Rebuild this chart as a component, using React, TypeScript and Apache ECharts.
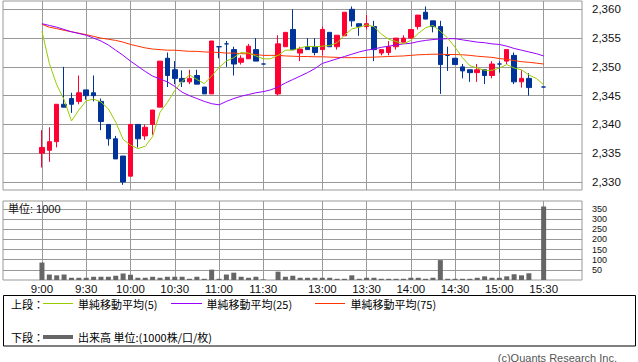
import React, { useEffect, useRef } from 'react';
import * as echarts from 'echarts';

// ---- axis ticks ----
const TICK_SLOTS = [0, 6, 12, 18, 24, 30, 38, 44, 50, 56, 62, 68];
const TICK_LABELS = ['9:00', '9:30', '10:00', '10:30', '11:00', '11:30', '13:00', '13:30', '14:00', '14:30', '15:00', '15:30'];
const PRICE_TICKS = [2330, 2335, 2340, 2345, 2350, 2355, 2360];
const VOL_TICKS = [50, 100, 150, 200, 250, 300, 350];

// ---- 5-minute candles (slot index, 9:00 = 0; lunch gap at 31, no trade at 67) ----
const CANDLE_SLOTS = [0,1,2,3,4,5,6,7,8,9,10,11,12,13,14,15,16,17,18,19,20,21,22,23,24,25,26,27,28,29,30,
  32,33,34,35,36,37,38,39,40,41,42,43,44,45,46,47,48,49,50,51,52,53,54,55,56,57,58,59,60,61,62,63,64,65,66,68];
const OPEN = [2335,2335.5,2337,2343.5,2344.5,2344,2346,2345.5,2344,2340,2337.5,2334.5,2331,2340,2338,2340,2343,2351.5,2349.5,2348,2347.4,2348.5,2346.5,2345.3,2353.5,2354,2353,2350.8,2351.4,2353,2350.5,
  2345.3,2353.5,2356.5,2352.4,2353.5,2353.5,2353,2356,2353.5,2355.4,2360,2357.5,2357,2357,2352.4,2352.5,2353.5,2354.3,2355,2357,2359.5,2358,2357,2352,2351.5,2350,2349.5,2349,2349.5,2348.5,2350.5,2351,2352,2347.4,2348,2346.5];
const CLOSE = [2336,2337,2343.5,2343,2343.5,2345.5,2345,2345,2340.5,2337.5,2334,2330,2340,2337.5,2339.5,2342.5,2351,2348.5,2348,2347.4,2348,2347,2345.3,2354.5,2353.5,2354,2350.5,2351.5,2353.6,2351,2350.5,
  2354,2356,2353,2353.1,2353,2352.5,2356.5,2353.5,2355.5,2359.5,2358,2357,2357.5,2353,2353,2353.5,2355,2355,2356.5,2359,2358.3,2357,2350.4,2352,2350.4,2349.3,2349,2349.5,2348.5,2350.5,2350.5,2353,2347.4,2348,2346.4,2346.5];
const LOW = [2332.5,2333.5,2336,2343,2342,2343.5,2344.3,2344,2339,2336.3,2334,2329.5,2331,2336,2337.3,2338.2,2343,2346.5,2347,2346.5,2347,2347,2345.3,2345.3,2351.5,2350,2348.5,2350.4,2351.4,2351,2350.5,
  2345,2353.5,2353,2351,2353,2352,2352,2353.5,2353,2355.4,2357,2355.4,2356.5,2351,2352,2352,2353,2354.3,2355,2356.5,2358.3,2356,2345.3,2349.3,2350.4,2348,2347.4,2347.4,2347,2348,2349,2350.5,2347,2346.4,2345,2346.5];
const HIGH = [2339,2339.5,2343.5,2350,2345.5,2348.5,2346,2348.5,2344.5,2340,2338,2334.5,2340,2340,2340,2342.5,2351,2352.5,2351,2349.4,2349.5,2349.5,2346.5,2354.5,2353.5,2354.5,2353.5,2352,2354,2355,2350.5,
  2355.5,2356,2360,2353.5,2355,2355,2357,2356,2355.5,2359.5,2360.5,2357.5,2359,2358,2353,2354.5,2355,2355.5,2356.5,2359,2360.5,2358,2358,2353.5,2351.5,2350.5,2349.5,2350.5,2349.5,2351,2351,2353,2352.5,2349.4,2348.9,2346.5];

// ---- volume (unit 1000) ----
const VOLUME = [86,27,23,27,11,11,11,16,16,16,21,32,26,11,11,16,11,16,16,16,6,16,6,51,6,27,36,16,11,16,3,
  41,16,21,11,11,11,11,11,6,6,23,6,11,11,6,6,6,6,11,11,6,11,98,6,6,6,6,11,18,11,11,18,28,23,33,362];

// ---- moving averages, every slot 0..68 ----
const MA_SLOTS = [0,1,2,3,4,5,6,7,8,9,10,11,12,13,14,15,16,17,18,19,20,21,22,23,24,25,26,27,28,29,30,31,32,33,34,
  35,36,37,38,39,40,41,42,43,44,45,46,47,48,49,50,51,52,53,54,55,56,57,58,59,60,61,62,63,64,65,66,67,68];
const MA5 = [2356.2,2350.6,2346.9,2344.3,2340.6,2342.5,2344.1,2344.4,2343.9,2342.7,2340.4,2337.4,2336.4,2335.8,2336.2,2337.9,2342.1,2343.8,2345.9,2347.5,2348.6,2347.8,2347.1,2348.4,2349.9,2351.0,2351.6,2352.5,2352.4,2351.9,2351.4,2351.4,2352.0,2352.9,2352.9,
  2353.3,2353.6,2353.5,2353.6,2353.7,2354.2,2355.5,2356.6,2356.9,2357.3,2357.0,2355.7,2354.8,2354.4,2354.0,2354.6,2355.8,2356.8,2357.2,2356.2,2355.0,2353.4,2351.6,2350.2,2349.8,2349.4,2349.4,2349.8,2350.4,2349.8,2349.5,2348.6,2348.0,2346.9];
const MA25 = [2357.5,2357.2,2356.9,2356.5,2356.1,2355.8,2355.5,2355.0,2354.5,2353.8,2352.9,2352.0,2351.0,2350.1,2349.2,2348.4,2347.9,2347.4,2346.6,2345.6,2345.0,2344.5,2344.0,2343.6,2343.4,2344.0,2344.5,2344.9,2345.2,2345.5,2345.7,2346.0,2346.5,2347.2,2347.8,
  2348.4,2349.0,2349.7,2350.6,2351.0,2351.4,2351.8,2352.2,2352.6,2352.9,2353.1,2353.4,2353.6,2353.8,2354.0,2354.1,2354.4,2354.6,2354.75,2354.85,2354.9,2354.9,2354.7,2354.5,2354.3,2354.2,2354.0,2353.9,2353.6,2353.2,2352.9,2352.6,2352.3,2351.9];
const MA75 = [2357.4,2356.9,2356.65,2356.35,2356.1,2355.85,2355.6,2355.3,2355.0,2354.8,2354.6,2354.3,2353.9,2353.6,2353.3,2353.1,2353.0,2352.9,2352.9,2352.8,2352.7,2352.7,2352.6,2352.55,2352.5,2352.4,2352.4,2352.3,2352.25,2352.15,2352.0,2352.0,2352.0,2351.9,2351.85,
  2351.8,2351.8,2351.75,2351.75,2351.7,2351.65,2351.6,2351.6,2351.6,2351.65,2351.7,2351.75,2351.8,2351.85,2351.9,2352.0,2352.1,2352.15,2352.2,2352.2,2352.15,2352.15,2352.1,2352.0,2351.85,2351.75,2351.65,2351.45,2351.3,2351.1,2350.9,2350.8,2350.65,2350.5];

const RED = '#ff0033';
const BLUE = '#003399';
const GREEN = '#99cc00';
const PURPLE = '#9900ff';
const ORANGE = '#ff3300';
const GRID = '#999999';
const VOLC = '#666666';

const AXIS_FONT = { fontFamily: 'Liberation Sans', fontSize: 11.5, color: '#111' };
const LEG_FONT = '11px "Noto Sans CJK JP"';

function fmtComma(v: number) {
  return String(v).replace(/\B(?=(\d{3})+(?!\d))/g, ',');
}

export default function App() {
  const ref = useRef<HTMLDivElement>(null);
  useEffect(() => {
    document.body.style.margin = '0';
    if (!ref.current) return;
    const chart = echarts.init(ref.current, undefined, { renderer: 'svg' });

    const candleData = CANDLE_SLOTS.map((s, i) => {
      const v = [s, OPEN[i], CLOSE[i], LOW[i], HIGH[i]];
      if (OPEN[i] === CLOSE[i]) {
        return { value: v, itemStyle: { borderColor: BLUE, borderColor0: BLUE, borderColorDoji: BLUE, color: BLUE, color0: BLUE } };
      }
      return { value: v };
    });
    const ma = (arr: number[]) => MA_SLOTS.map((s, i) => [s, arr[i]]);
    const volData = CANDLE_SLOTS.map((s, i) => [s, VOLUME[i]]);

    const xBase = {
      type: 'value',
      min: -5.28,
      max: 73.2,
      axisLine: { show: false },
      axisTick: { show: false, customValues: TICK_SLOTS },
      splitLine: { show: true, lineStyle: { color: GRID, width: 1 } },
    };

    const graphics: any[] = [
      { id: 'unit', type: 'text', x: 8, y: 209, z: 100, style: { text: '単位: 1000', font: '11px "Liberation Sans", "Noto Sans CJK JP"', fill: '#111', verticalAlign: 'middle' } },
      { id: 'box', type: 'rect', shape: { x: 3.5, y: 295.5, width: 632, height: 50.5 }, style: { fill: 'none', stroke: '#000', lineWidth: 1 } },
      { id: 't1', type: 'text', x: 11, y: 303.5, style: { text: '上段：', font: LEG_FONT, fill: '#000', verticalAlign: 'middle' } },
      { id: 'l1', type: 'line', shape: { x1: 43, y1: 303.5, x2: 73, y2: 303.5 }, style: { stroke: GREEN, lineWidth: 1 } },
      { id: 't2', type: 'text', x: 78, y: 303.5, style: { text: '単純移動平均(5)', font: LEG_FONT, fill: '#000', verticalAlign: 'middle' } },
      { id: 'l2', type: 'line', shape: { x1: 171, y1: 303.5, x2: 202, y2: 303.5 }, style: { stroke: PURPLE, lineWidth: 1 } },
      { id: 't3', type: 'text', x: 206.5, y: 303.5, style: { text: '単純移動平均(25)', font: LEG_FONT, fill: '#000', verticalAlign: 'middle' } },
      { id: 'l3', type: 'line', shape: { x1: 315, y1: 303.5, x2: 345, y2: 303.5 }, style: { stroke: ORANGE, lineWidth: 1 } },
      { id: 't4', type: 'text', x: 350.5, y: 303.5, style: { text: '単純移動平均(75)', font: LEG_FONT, fill: '#000', verticalAlign: 'middle' } },
      { id: 't5', type: 'text', x: 11, y: 337, style: { text: '下段：', font: LEG_FONT, fill: '#000', verticalAlign: 'middle' } },
      { id: 'l5', type: 'line', shape: { x1: 43, y1: 337, x2: 73, y2: 337 }, style: { stroke: VOLC, lineWidth: 4 } },
      { id: 't6', type: 'text', x: 78, y: 337, style: { text: '出来高 単位:(1000株/口/枚)', font: LEG_FONT, fill: '#000', verticalAlign: 'middle' } },
      { id: 'copy', type: 'text', x: 617, y: 357.5, style: { text: '(c)Quants Research Inc.', font: '11px "Liberation Sans"', fill: '#555', align: 'right', verticalAlign: 'middle' } },
    ];

    const option: any = {
      animation: false,
      grid: [
        { left: 3, top: 1, width: 579, height: 189, show: true, borderColor: GRID, borderWidth: 1, containLabel: false },
        { left: 3, top: 201, width: 579, height: 79, show: true, borderColor: GRID, borderWidth: 1, containLabel: false },
      ],
      xAxis: [
        { ...xBase, gridIndex: 0, axisLabel: { show: false, customValues: TICK_SLOTS } },
        {
          ...xBase, gridIndex: 1,
          axisLabel: {
            show: true, customValues: TICK_SLOTS, margin: 3, ...AXIS_FONT,
            formatter: (v: number) => TICK_LABELS[TICK_SLOTS.indexOf(v)] ?? '',
          },
        },
      ],
      yAxis: [
        {
          type: 'value', gridIndex: 0, position: 'right', min: 2328.6, max: 2361.45,
          axisLine: { show: false },
          axisTick: { show: false, customValues: PRICE_TICKS },
          axisLabel: { customValues: PRICE_TICKS, margin: 10, ...AXIS_FONT, formatter: (v: number) => fmtComma(v) },
          splitLine: { show: true, lineStyle: { color: GRID, width: 1 } },
        },
        {
          type: 'value', gridIndex: 1, position: 'right', min: 0, max: 389,
          axisLine: { show: false },
          axisTick: { show: false, customValues: VOL_TICKS },
          axisLabel: { show: false, customValues: VOL_TICKS },
          splitLine: { show: true, lineStyle: { color: GRID, width: 1 } },
        },
      ],
      series: [
        {
          type: 'candlestick', xAxisIndex: 0, yAxisIndex: 0,
          encode: { x: 0, y: [1, 2, 3, 4] },
          data: candleData, barWidth: 5,
          itemStyle: { color: RED, color0: BLUE, borderColor: RED, borderColor0: BLUE, borderColorDoji: BLUE, borderWidth: 1 },
        },
        { type: 'line', name: 'MA75', xAxisIndex: 0, yAxisIndex: 0, data: ma(MA75), symbol: 'none', showSymbol: false, lineStyle: { color: ORANGE, width: 1 } },
        { type: 'line', name: 'MA25', xAxisIndex: 0, yAxisIndex: 0, data: ma(MA25), symbol: 'none', showSymbol: false, lineStyle: { color: PURPLE, width: 1 } },
        { type: 'line', name: 'MA5', xAxisIndex: 0, yAxisIndex: 0, data: ma(MA5), symbol: 'none', showSymbol: false, lineStyle: { color: GREEN, width: 1 } },
        { type: 'bar', xAxisIndex: 1, yAxisIndex: 1, data: volData, barWidth: 5, itemStyle: { color: VOLC } },
      ],
      graphic: graphics,
    };
    chart.setOption(option);

    // volume axis labels placed through the volume axis scale
    const rightX = (chart.convertToPixel({ xAxisIndex: 1 }, 73.2) as number) + 10;
    const volLabels = VOL_TICKS.map((v, i) => ({
      id: 'vl' + i,
      type: 'text',
      x: rightX,
      y: chart.convertToPixel({ yAxisIndex: 1 }, v) as number,
      style: { text: String(v), font: '9px "Liberation Sans"', fill: '#111', verticalAlign: 'middle' },
    }));
    chart.setOption({ graphic: [...graphics, ...volLabels] });

    return () => chart.dispose();
  }, []);
  return <div ref={ref} style={{ width: 638, height: 362 }} />;
}
